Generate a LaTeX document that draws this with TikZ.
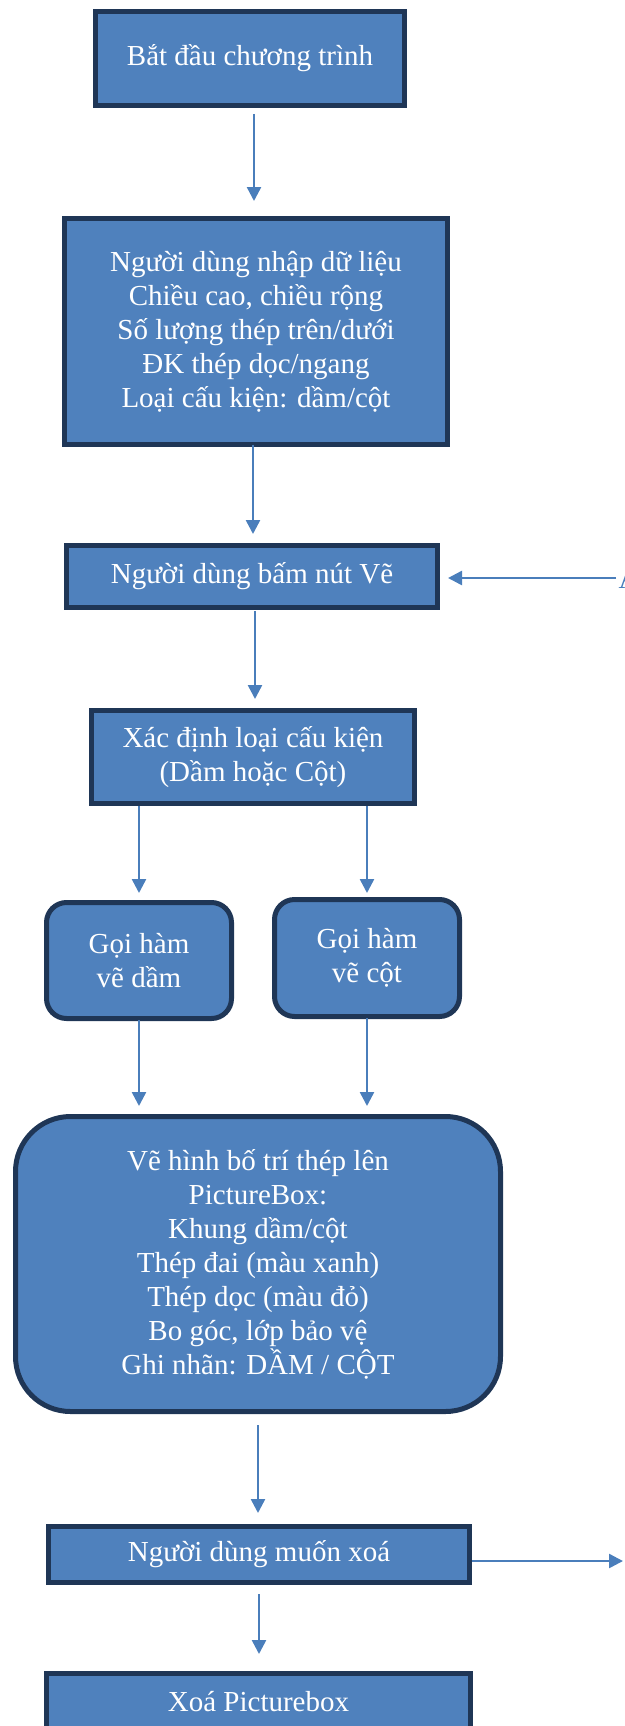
\documentclass[tikz,border=0pt]{standalone}
\usepackage{fontspec}
\setmainfont{Liberation Serif}
\usetikzlibrary{arrows.meta}
\definecolor{fillcol}{HTML}{4F81BD}
\definecolor{bordercol}{HTML}{1F3656}
\definecolor{arrowcol}{HTML}{4A7EBB}
\newcommand\boxfont{\fontsize{29}{34}\selectfont}
\tikzset{
  box/.style={draw=bordercol, line width=5pt, fill=fillcol, text=white, font=\boxfont, align=center, inner sep=0pt, outer sep=0pt},
  rbox/.style={box, rounded corners=20pt},
  arr/.style={draw=arrowcol, line width=2.5pt, -{Triangle[length=14pt,width=14pt]}}
}
\begin{document}
\begin{tikzpicture}[x=1pt,y=-1pt]
\useasboundingbox (0,0) rectangle (624,1726);
\clip (0,0) rectangle (624,1726);
\node[box, minimum width=309pt, minimum height=94pt] (b1) at (250,58.5) {Bắt đầu chương trình};
\node[box, minimum width=383pt, minimum height=226pt] (b2) at (256,331.5) {Người dùng nhập dữ liệu\\Chiều cao, chiều rộng\\Số lượng thép trên/dưới\\ĐK thép dọc/ngang\\Loại cấu kiện: dầm/cột};
\node[box, minimum width=371pt, minimum height=62pt] (b3) at (252,576.5) {Người dùng bấm nút Vẽ};
\node[box, minimum width=323pt, minimum height=93pt] (b4) at (253,757) {Xác định loại cấu kiện\\(Dầm hoặc Cột)};
\node[rbox, minimum width=185pt, minimum height=116pt] (b5) at (139,960.5) {Gọi hàm\\vẽ dầm};
\node[rbox, minimum width=185pt, minimum height=117pt] (b6) at (367,958) {Gọi hàm\\vẽ cột};
\node[box, rounded corners=55pt, minimum width=485pt, minimum height=295pt] (b7) at (258,1264) {Vẽ hình bố trí thép lên\\PictureBox:\\Khung dầm/cột\\Thép đai (màu xanh)\\Thép dọc (màu đỏ)\\Bo góc, lớp bảo vệ\\Ghi nhãn: DẦM / CỘT};
\node[box, minimum width=421pt, minimum height=56pt] (b8) at (259,1554.5) {Người dùng muốn xoá};
\node[box, minimum width=424pt, minimum height=57pt] (b9) at (258.5,1702) {Xoá Picturebox};
\node[anchor=base west, inner sep=0pt, text=arrowcol, font=\boxfont] (A) at (618.5,588) {A};
\coordinate (cA) at (616,578);
\coordinate (cB) at (623,1561);
% connectors
\draw[arr, shorten <=8.5pt, shorten >=17.5pt] ([xshift=4pt]b1.south) -- ([xshift=-2pt]b2.north);
\draw[arr, shorten >=11.5pt] ([xshift=-3pt]b2.south) -- ([xshift=1pt]b3.north);
\draw[arr, shorten <=3.5pt, shorten >=11.5pt] ([xshift=3pt]b3.south) -- ([xshift=2pt]b4.north);
\draw[arr, shorten <=2.5pt, shorten >=9.5pt] (b4.south -| b5.north) -- (b5.north);
\draw[arr, shorten <=2.5pt, shorten >=6.5pt] (b4.south -| b6.north) -- (b6.north);
\draw[arr, shorten <=1.5pt, shorten >=10.5pt] (b5.south) -- (b7.north -| b5.south);
\draw[arr, shorten <=1.5pt, shorten >=10.5pt] (b6.south) -- (b7.north -| b6.south);
\draw[arr, shorten <=13.5pt, shorten >=13.5pt] (b7.south) -- (b8.north -| b7.south);
\draw[arr, shorten <=11.5pt, shorten >=19.5pt] (b8.south) -- (b9.north -| b8.south);
\draw[arr, shorten >=10.5pt] (cA) -- (b3.east |- cA);
\draw[arr, shorten <=2.5pt] (b8.east |- cB) -- (cB);
\end{tikzpicture}
\end{document}
